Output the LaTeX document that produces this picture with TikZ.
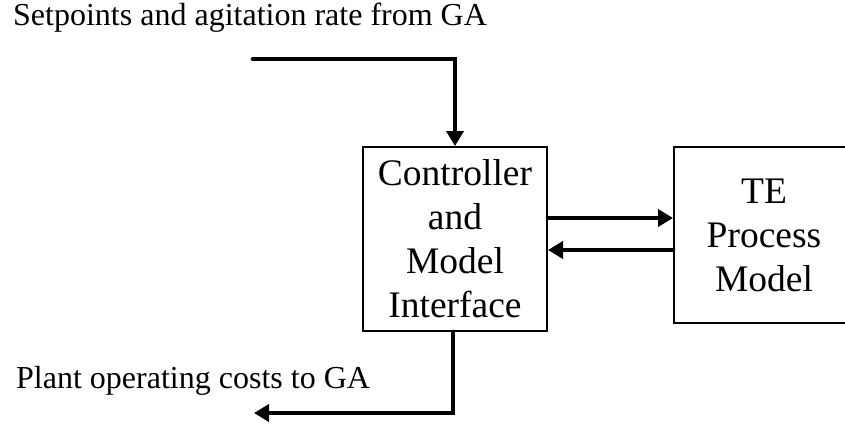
\documentclass[tikz,border=0pt]{standalone}
\usepackage{fontspec}
\setmainfont{Liberation Serif}
\usetikzlibrary{arrows.meta}
\begin{document}
\begin{tikzpicture}[x=1pt,y=-1pt,
  blockbox/.style={draw=black,line width=2pt,inner sep=0pt,align=center,
    font=\fontsize{37.5}{44}\selectfont},
  flow/.style={line width=4.6pt,line cap=round,-{Triangle[length=15pt,width=17pt]}},
  lbl/.style={inner sep=0pt,anchor=base west,font=\fontsize{32}{38}\selectfont}]
\useasboundingbox (0,0) rectangle (845,423);
\node[blockbox,minimum width=184pt,minimum height=184pt] (ctrl) at (455,239)
  {Controller\\and\\Model\\Interface};
\node[blockbox,minimum width=180pt,minimum height=176pt] (te) at (764,235)
  {TE\\Process\\Model};
\node[lbl] (inlbl) at (13,25) {Setpoints and agitation rate from GA};
\node[lbl] (outlbl) at (16,388) {Plant operating costs to GA};
\coordinate (inS) at (253,59);
\coordinate (outE) at (254,413);
\draw[flow] (inS) -| (ctrl.north);
\draw[flow] ([xshift=-2pt]ctrl.south) |- (outE);
\draw[flow] ([yshift=21pt]ctrl.east) -- ([yshift=17pt]te.west);
\draw[flow] ([yshift=-15pt]te.west) -- ([yshift=-11pt]ctrl.east);
\end{tikzpicture}
\end{document}
